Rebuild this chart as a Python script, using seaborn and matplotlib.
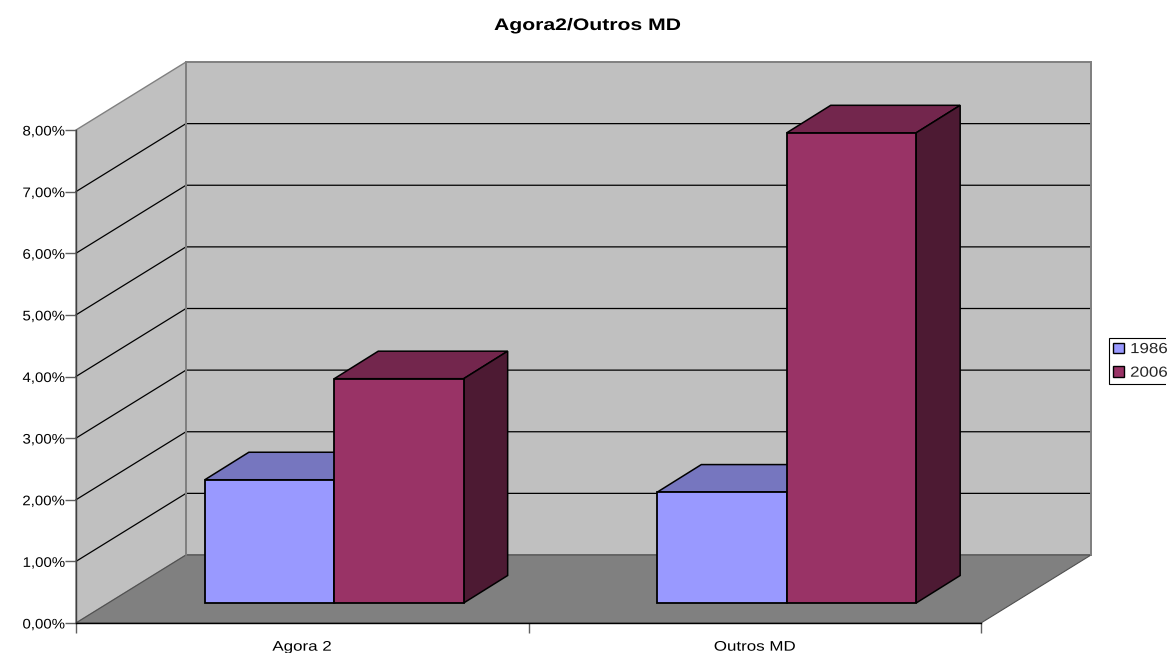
import matplotlib
matplotlib.use("Agg")
import matplotlib.pyplot as plt
from matplotlib.patches import Polygon
from matplotlib.patheffects import AbstractPathEffect
from matplotlib.transforms import Affine2D, Bbox
import pandas as pd
import seaborn as sns

# Share of each group, in percent
categories = ["Agora 2", "Outros MD"]
values_1986 = [2.0, 1.8]
values_2006 = [3.64, 7.63]
years = ["1986", "2006"]
y_ticks = [0, 1, 2, 3, 4, 5, 6, 7, 8]
y_tick_labels = ["0,00%", "1,00%", "2,00%", "3,00%", "4,00%", "5,00%", "6,00%", "7,00%", "8,00%"]
title_text = "Agora2/Outros MD"

front_colors = {"1986": "#9999FF", "2006": "#993366"}
top_colors = {"1986": "#7676BF", "2006": "#73264D"}
side_colors = {"1986": "#4D4D80", "2006": "#4D1A33"}

W, H = 1169, 653
sns.set_theme(style="white")
plt.rcParams["font.family"] = ["Liberation Sans", "DejaVu Sans"]

fig = plt.figure(figsize=(W / 100, H / 100), dpi=100, facecolor="white")


class WideText(AbstractPathEffect):
    """Draws text stretched horizontally about a fixed pixel column."""

    def __init__(self, anchor, stretch):
        super().__init__()
        self.anchor = anchor
        self.stretch = stretch

    def draw_path(self, renderer, gc, tpath, affine, rgbFace=None):
        widen = Affine2D().translate(-self.anchor, 0).scale(self.stretch, 1).translate(self.anchor, 0)
        renderer.draw_path(gc, tpath, affine + widen, rgbFace)


def axes_box(left, right, top, bottom):
    return [left / W, 1 - bottom / H, (right - left) / W, (bottom - top) / H]


# Front plane of the box: carries the ticks and the walls behind it
ax = fig.add_axes(axes_box(76, 981, 130, 623), facecolor="none")
ax.set_xlim(-0.5, 1.5)
ax.set_ylim(0, 8)

unit_x = 905 / 2
unit_y = 493 / 8
box_dx, box_dy = 110 / unit_x, 68 / unit_y


def back(x, y):
    return (x + box_dx, y + box_dy)


wall_edge = "#808080"
ax.add_patch(Polygon([back(-0.5, 0), back(1.5, 0), back(1.5, 8), back(-0.5, 8)],
                     facecolor="#C0C0C0", edgecolor=wall_edge, lw=1.4, zorder=0.1, clip_on=False))
ax.add_patch(Polygon([(-0.5, 0), back(-0.5, 0), back(-0.5, 8), (-0.5, 8)],
                     facecolor="#C0C0C0", edgecolor=wall_edge, lw=1.0, zorder=0.1, clip_on=False))
ax.add_patch(Polygon([(-0.5, 0), (1.5, 0), back(1.5, 0), back(-0.5, 0)],
                     facecolor="#808080", edgecolor="#505050", lw=0.8, zorder=0.2, clip_on=False))

# Gridlines run along the left wall and across the back wall
for tick in y_ticks[1:-1]:
    xa, ya = back(-0.5, tick)
    xb, yb = back(1.5, tick)
    ax.plot([-0.5, xa, xb], [tick, ya, yb], color="black", lw=0.9, zorder=0.3, clip_on=False)
# Back-wall corners drawn over the gridline ends
for corner in (-0.5, 1.5):
    xa, ya = back(corner, 0)
    ax.plot([xa, xa], [ya, ya + 8], color=wall_edge, lw=1.4, zorder=0.35, clip_on=False)

ax.spines[["top", "right"]].set_visible(False)
ax.spines["left"].set_color("#404040")
ax.spines["bottom"].set_color("black")
ax.spines["left"].set_linewidth(1.0)
ax.spines["bottom"].set_linewidth(1.0)
ax.set_yticks(y_ticks, y_tick_labels)
ax.set_xticks([0, 1], categories)
ax.set_xticks([-0.5, 0.5, 1.5], minor=True)
ax.tick_params(axis="y", length=8, width=1, color="#606060", pad=0, labelsize=10, labelcolor="black", left=True)
ax.tick_params(axis="x", which="major", length=0, pad=12, labelsize=10, labelcolor="black")
ax.tick_params(axis="x", which="minor", length=7, width=1, color="#606060", bottom=True)
ax.set_xlabel("")
ax.set_ylabel("")
for label in ax.get_yticklabels():
    label.set_path_effects([WideText(63.5, 1.08)])
for label, centre in zip(ax.get_xticklabels(), (302.25, 754.75)):
    label.set_path_effects([WideText(centre, 1.22)])

# Bar plane, set back from the front of the box
bar_ax = fig.add_axes(axes_box(108, 1013, 110, 603), facecolor="none")
table = pd.DataFrame({
    "categoria": categories * 2,
    "ano": [years[0]] * 2 + [years[1]] * 2,
    "valor": values_1986 + values_2006,
})
sns.barplot(data=table, x="categoria", y="valor", hue="ano", hue_order=years, palette=front_colors,
            order=categories, width=0.572, saturation=1, edgecolor="black", linewidth=1.3, ax=bar_ax)
bar_ax.set_xlim(-0.5, 1.5)
bar_ax.set_ylim(0, 8)
bar_ax.set_axis_off()

# Top and right faces are extruded from each front rectangle
bar_dx, bar_dy = 44 / unit_x, 27.5 / unit_y
for order, (year, container) in enumerate(zip(years, bar_ax.containers)):
    for bar in container:
        bar.set_zorder(2 + 2 * order)
        bar.set_clip_on(False)
        x0, x1 = bar.get_x(), bar.get_x() + bar.get_width()
        h = bar.get_height()
        bar_ax.add_patch(Polygon([(x0, h), (x1, h), (x1 + bar_dx, h + bar_dy), (x0 + bar_dx, h + bar_dy)],
                                 facecolor=top_colors[year], edgecolor="black", lw=1.1,
                                 zorder=1 + 2 * order, clip_on=False))
        bar_ax.add_patch(Polygon([(x1, 0), (x1 + bar_dx, bar_dy), (x1 + bar_dx, h + bar_dy), (x1, h)],
                                 facecolor=side_colors[year], edgecolor="black", lw=1.1,
                                 zorder=1 + 2 * order, clip_on=False))

handles, labels = bar_ax.get_legend_handles_labels()
bar_ax.legend_.remove()
legend = fig.legend(handles, labels, loc="upper left", bbox_to_anchor=(1108.5 / W, 1 - 338 / H),
                    fontsize=10.5, frameon=True, fancybox=False, framealpha=1, edgecolor="black",
                    borderpad=0.28, borderaxespad=0, handlelength=0.75, handleheight=0.75,
                    handletextpad=0.45, labelspacing=0.66)
# The legend box runs off the right edge of the figure, so its right border stays hidden
frame = legend.get_frame()
frame.set_linewidth(0.8)
frame.set_clip_box(Bbox.from_extents(0, 0, 1165.5, H))
frame.set_clip_on(True)
for patch in legend.get_patches():
    patch.set_linewidth(1.0)
    patch.set_edgecolor("black")
for text in legend.get_texts():
    text.set_path_effects([WideText(1130, 1.16)])

title = fig.text(587.2 / W, 1 - 30 / H, title_text, ha="center", va="baseline",
                 fontsize=12, fontweight="bold", color="black")
title.set_path_effects([WideText(587.2, 1.27)])

fig.savefig("out.png", dpi=100)
